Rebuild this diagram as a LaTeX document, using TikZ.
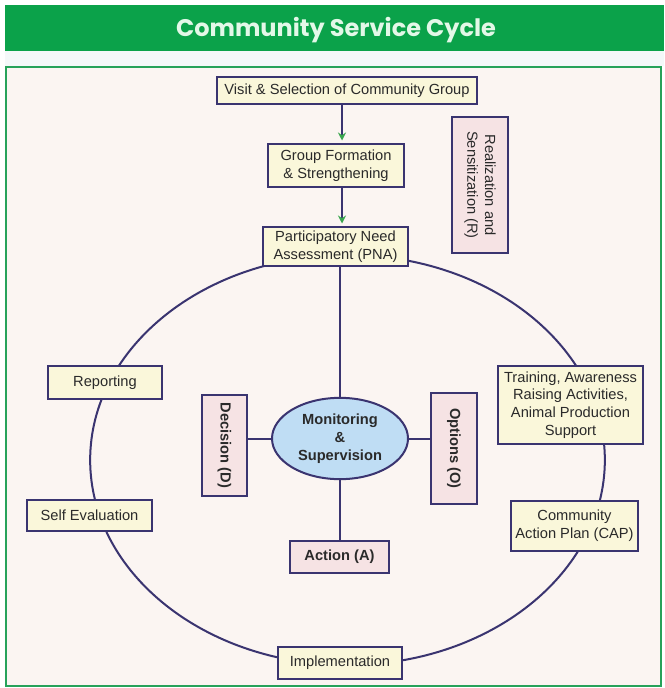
\documentclass[tikz,border=0pt]{standalone}
\usepackage{fontspec}
\setmainfont{Liberation Sans}
\newfontfamily\titlefont{Poppins}
\usetikzlibrary{shapes.geometric,arrows.meta}

\definecolor{navy}{HTML}{3A3470}
\definecolor{ink}{HTML}{2A2A2A}
\definecolor{cream}{HTML}{FAF7DA}
\definecolor{pinkfill}{HTML}{F6E3E4}
\definecolor{skyfill}{HTML}{BFDDF4}
\definecolor{paper}{HTML}{FBF5F2}
\definecolor{bandgreen}{HTML}{0BA24A}
\definecolor{titletext}{HTML}{E3F8E8}
\definecolor{strip}{HTML}{F4F8F9}
\definecolor{panelgreen}{HTML}{27A25A}
\definecolor{arrowgreen}{HTML}{3AA64E}

\tikzset{
  box/.style={draw=navy, line width=1.5pt, fill=cream, text=ink, align=center,
    inner sep=1pt, font=\fontsize{11}{13.3}\selectfont},
  pinkbox/.style={box, fill=pinkfill},
  flow/.style={draw=navy, line width=1.5pt, shorten >=2pt,
    -{Stealth[length=6pt,width=6pt,color=arrowgreen]}},
  link/.style={draw=navy, line width=1.5pt}
}

\begin{document}
\begin{tikzpicture}[x=0.75pt,y=-0.75pt]
    \useasboundingbox (0,0) rectangle (664,688);

    % title band
    \fill[bandgreen] (5,5) rectangle (664,51);
    \fill[strip] (5,51) rectangle (664,66);
    \node[anchor=base, text=titletext,
        font=\titlefont\bfseries\fontsize{18}{20}\selectfont] (title) at (336,37)
        {Community Service Cycle};
    \draw[panelgreen, line width=1.2pt, fill=paper] (6,67) rectangle (661,686);

    % the cycle
    \node[ellipse, draw=navy, line width=1.5pt, inner sep=0pt,
        minimum width=386pt, minimum height=307.5pt] (ring) at (347.5,460) {};

    % top chain
    \node[box, minimum width=195pt, minimum height=20pt] (visit) at (347,90.5)
        {Visit \& Selection of Community Group};
    \node[box, minimum width=102pt, minimum height=32pt] (group) at (336,165.5)
        {Group Formation\\ \& Strengthening};
    \node[box, minimum width=109pt, minimum height=29pt] (pna) at (335.5,246.5)
        {Participatory Need\\ Assessment (PNA)};
    \node[pinkbox, rotate=-90, minimum width=102pt, minimum height=42pt] (real) at (480,185)
        {Realization and\\ Sensitization (R)};

    % around the cycle
    \node[box, minimum width=85.5pt, minimum height=25pt] (report) at (105,382.5) {Reporting};
    \node[box, minimum width=94pt, minimum height=23pt] (selfeval) at (89.5,515.5) {Self Evaluation};
    \node[box, minimum width=109pt, minimum height=58.5pt] (train) at (570.5,405)
        {Training, Awareness\\ Raising Activities,\\ Animal Production\\ Support};
    \node[box, minimum width=95pt, minimum height=37.5pt] (cap) at (574.5,526)
        {Community\\ Action Plan (CAP)};
    \node[box, minimum width=93pt, minimum height=24pt] (impl) at (340,663) {Implementation};

    % centre
    \node[ellipse, draw=navy, line width=1.5pt, fill=skyfill, text=ink, align=center,
        inner sep=0pt, minimum width=102pt, minimum height=61pt,
        font=\bfseries\fontsize{11}{13.3}\selectfont] (mon) at (340,438.5)
        {Monitoring\\ \&\\ Supervision};
    \node[pinkbox, rotate=-90, minimum width=76pt, minimum height=34pt,
        font=\bfseries\fontsize{11}{13.3}\selectfont] (dec) at (224.5,445.5) {Decision (D)};
    \node[pinkbox, rotate=-90, minimum width=83pt, minimum height=34.5pt,
        font=\bfseries\fontsize{11}{13.3}\selectfont] (opt) at (454,448.5) {Options (O)};
    \node[pinkbox, minimum width=74pt, minimum height=24pt,
        font=\bfseries\fontsize{11}{13.3}\selectfont] (act) at (339.5,557) {Action (A)};

    % connectors
    \coordinate (axis) at (342,0);
    \draw[flow] (visit.south -| axis) -- (group.north -| axis);
    \draw[flow] (group.south -| axis) -- (pna.north -| axis);
    \draw[link] (mon.north |- pna.south) -- (mon.north);
    \draw[link] (mon.south) -- (mon.south |- act.north);
    \draw[link] (mon.west) -- (mon.west -| dec.north);
    \draw[link] (mon.east) -- (mon.east -| opt.south);
\end{tikzpicture}
\end{document}
